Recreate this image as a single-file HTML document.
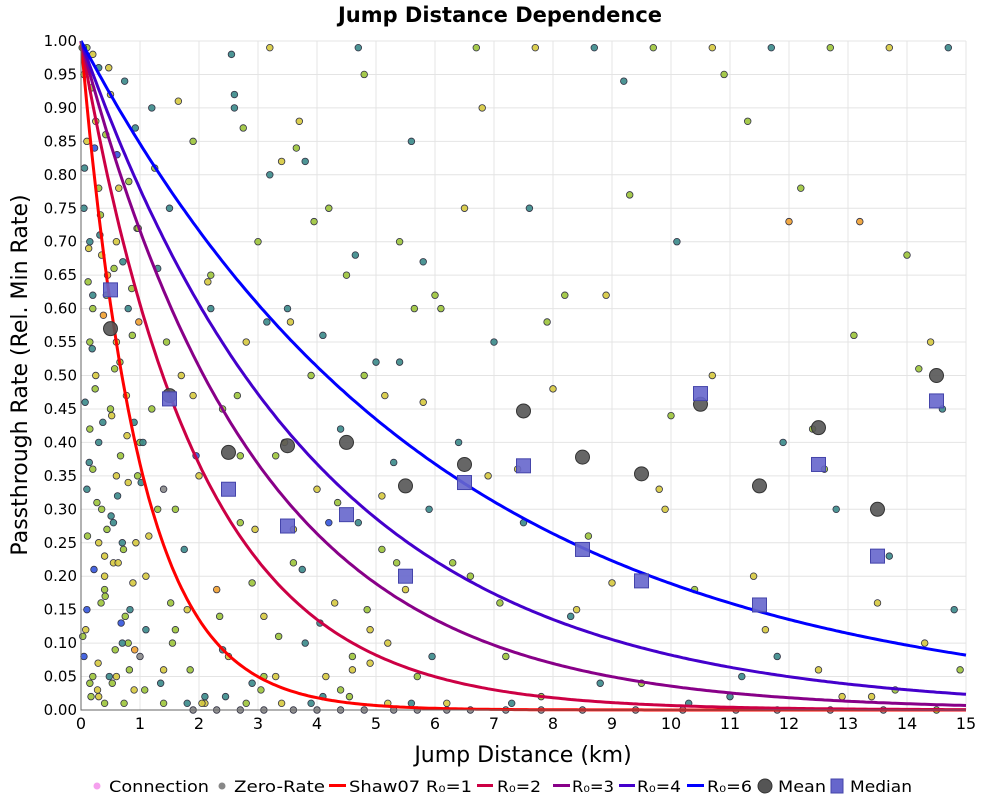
<!DOCTYPE html>
<html><head><meta charset="utf-8"><style>
body{margin:0;background:#fff;font-family:"DejaVu Sans","Liberation Sans",sans-serif}
svg text{font-family:"DejaVu Sans","Liberation Sans",sans-serif}
</style></head><body>
<svg id="chart" width="1000" height="800" xmlns="http://www.w3.org/2000/svg">
<text x="500" y="22" text-anchor="middle" font-size="21" font-weight="bold">Jump Distance Dependence</text>
<text x="523" y="762" text-anchor="middle" font-size="22">Jump Distance (km)</text>
<text transform="translate(27,375) rotate(-90)" text-anchor="middle" font-size="22">Passthrough Rate (Rel. Min Rate)</text>
<g id="grid"></g>
<g id="pts"></g>
<g id="curves"></g>
<g id="stats"></g>
<g id="axes"></g>
<g id="legend" font-size="16">
<circle cx="97" cy="786" r="3.5" fill="#f5a0ee"/>
<text x="109" y="792" textLength="100" lengthAdjust="spacingAndGlyphs">Connection</text>
<circle cx="222" cy="786" r="3.5" fill="#888"/>
<text x="234" y="792" textLength="91" lengthAdjust="spacingAndGlyphs">Zero-Rate</text>
<rect x="329" y="784" width="17" height="3" fill="#ff0000"/>
<text x="349" y="792" textLength="123" lengthAdjust="spacingAndGlyphs">Shaw07 R₀=1</text>
<rect x="477" y="784" width="16" height="3" fill="#cc0044"/>
<text x="497" y="792" textLength="44" lengthAdjust="spacingAndGlyphs">R₀=2</text>
<rect x="553" y="784" width="17" height="3" fill="#880088"/>
<text x="572" y="792" textLength="42" lengthAdjust="spacingAndGlyphs">R₀=3</text>
<rect x="619" y="784" width="16" height="3" fill="#4400cc"/>
<text x="637" y="792" textLength="44" lengthAdjust="spacingAndGlyphs">R₀=4</text>
<rect x="687" y="784" width="17" height="3" fill="#0000ff"/>
<text x="707" y="792" textLength="45" lengthAdjust="spacingAndGlyphs">R₀=6</text>
<circle cx="765" cy="786" r="7" fill="#555" stroke="#333"/>
<text x="778" y="792" textLength="48" lengthAdjust="spacingAndGlyphs">Mean</text>
<rect x="831" y="779" width="12" height="14" fill="#6666cc" stroke="#4444aa"/>
<text x="850" y="792" textLength="62" lengthAdjust="spacingAndGlyphs">Median</text>
</g>
</svg>
<script>
const xTicks=[0,1,2,3,4,5,6,7,8,9,10,11,12,13,14,15];
const yTicks=[0,0.05,0.1,0.15,0.2,0.25,0.3,0.35,0.4,0.45,0.5,0.55,0.6,0.65,0.7,0.75,0.8,0.85,0.9,0.95,1.0];
const r0Values=[1,2,3,4,6];
const binCenters=[0.5,1.5,2.5,3.5,4.5,5.5,6.5,7.5,8.5,9.5,10.5,11.5,12.5,13.5,14.5];
const meanValues=[0.57,0.47,0.385,0.395,0.40,0.335,0.367,0.447,0.378,0.353,0.457,0.335,0.422,0.30,0.50];
const medianValues=[0.628,0.465,0.33,0.275,0.292,0.20,0.34,0.365,0.24,0.193,0.473,0.157,0.367,0.23,0.462];
const scatterX=[0.05,0.1,0.15,0.2,0.25,0.3,0.35,0.4,0.1,0.2,0.3,0.05,0.15,0.25,0.45,0.5,0.6,0.7,0.8,0.9,0.1,0.3,0.5,0.2,0.4,0.6,0.05,0.15,0.35,0.55,0.75,0.95,0.1,0.2,0.3,0.4,0.6,0.8,1.0,1.1,1.2,1.3,1.4,1.5,1.6,1.7,1.8,1.9,2.0,2.1,2.2,2.3,2.4,2.5,2.6,2.7,2.8,2.9,3.0,3.1,3.2,3.3,3.4,3.5,3.6,3.7,3.8,3.9,4.0,4.1,4.2,4.3,4.4,4.5,4.6,4.7,4.8,4.9,5.0,5.1,5.2,5.3,5.4,5.5,5.6,5.7,5.8,5.9,6.0,6.2,6.4,6.6,6.8,7.0,7.2,7.4,7.6,7.8,8.0,8.3,8.6,8.9,9.2,9.5,9.8,10.1,10.4,10.7,11.0,11.3,11.6,11.9,12.2,12.5,12.8,13.1,13.4,13.7,14.0,14.3,14.6,14.9,0.3,0.7,1.2,1.8,2.2,2.7,3.3,3.8,4.2,4.8,5.2,5.8,6.3,6.9,7.3,7.9,8.4,8.8,9.3,9.9,10.3,10.9,11.4,11.8,12.4,12.9,13.2,13.8,14.4,14.8,0.2,0.6,1.1,1.6,2.1,2.6,3.1,3.6,4.1,4.6,5.1,5.6,6.1,0.4,0.9,1.4,1.9,2.4,2.9,3.4,3.9,4.4,4.9,5.4,0.15,0.55,1.05,1.55,2.05,2.55,3.05,3.55,4.05,4.55,0.8,1.3,2.8,3.2,4.7,6.7,7.7,8.7,9.7,10.7,11.7,12.7,13.7,14.7,
0.02,0.04,0.06,0.08,0.12,0.14,0.18,0.22,0.24,0.28,0.32,0.34,0.38,0.42,0.44,0.48,0.52,0.56,0.58,0.62,0.64,0.66,0.68,0.72,0.74,0.78,0.82,0.86,0.88,0.92,0.96,0.98,0.03,0.07,0.11,0.13,0.17,0.19,0.23,0.27,0.29,0.33,0.37,0.41,0.43,0.47,0.51,0.53,0.57,0.61,0.63,0.67,0.71,0.73,0.77,0.81,0.83,0.87,0.91,0.93,0.97,1.02,1.08,1.15,1.25,1.35,1.45,1.52,1.65,1.75,1.85,1.95,2.15,2.35,2.45,2.65,2.75,2.95,3.15,3.35,3.45,3.65,3.75,3.95,4.15,4.35,4.65,4.85,5.15,5.35,5.65,5.95,6.5,7.1,7.5,8.2,9.0,10.0,11.2,12.0,12.6,13.5,14.2,1.0,1.4,1.9,2.3,2.7,3.1,3.6,4.0,4.4,4.8,5.3,5.7,6.2,6.6,7.2,7.8,8.5,9.4,10.2,11.1,11.8,12.7,13.6,14.5];
const scatterY=[0.95,0.85,0.7,0.6,0.5,0.4,0.3,0.2,0.15,0.05,0.02,0.75,0.55,0.88,0.65,0.45,0.35,0.25,0.1,0.03,0.33,0.78,0.92,0.62,0.18,0.55,0.08,0.42,0.68,0.28,0.14,0.72,0.99,0.98,0.96,0.01,0.05,0.6,0.4,0.2,0.9,0.3,0.06,0.75,0.12,0.5,0.01,0.85,0.35,0.02,0.65,0.18,0.45,0.08,0.92,0.28,0.55,0.04,0.7,0.14,0.8,0.38,0.01,0.6,0.22,0.88,0.1,0.5,0.33,0.02,0.75,0.16,0.42,0.65,0.06,0.28,0.95,0.12,0.52,0.24,0.01,0.37,0.7,0.18,0.85,0.05,0.46,0.3,0.62,0.01,0.4,0.2,0.9,0.55,0.08,0.36,0.75,0.02,0.48,0.14,0.26,0.62,0.94,0.04,0.33,0.7,0.18,0.5,0.02,0.88,0.12,0.4,0.78,0.06,0.3,0.56,0.02,0.23,0.68,0.1,0.45,0.06,0.25,0.1,0.45,0.15,0.6,0.38,0.05,0.82,0.28,0.5,0.1,0.67,0.22,0.35,0.01,0.58,0.15,0.04,0.77,0.3,0.01,0.95,0.2,0.08,0.42,0.02,0.73,0.03,0.55,0.15,0.36,0.7,0.12,0.3,0.01,0.9,0.05,0.27,0.56,0.08,0.32,0.01,0.6,0.23,0.43,0.01,0.47,0.09,0.19,0.82,0.01,0.03,0.07,0.52,0.04,0.22,0.4,0.1,0.01,0.98,0.03,0.58,0.13,0.02,0.34,0.66,0.01,0.99,0.99,0.99,0.99,0.99,0.99,0.99,0.99,0.99,0.99,0.99,0.99,0.99,
0.81,0.12,0.64,0.37,0.93,0.21,0.48,0.03,0.71,0.16,0.59,0.86,0.27,0.05,0.44,0.66,0.09,0.32,0.78,0.52,0.13,0.24,0.94,0.41,0.06,0.63,0.19,0.87,0.35,0.58,0.11,0.46,0.26,0.69,0.02,0.54,0.84,0.31,0.07,0.74,0.43,0.17,0.62,0.96,0.29,0.04,0.51,0.83,0.22,0.38,0.67,0.01,0.47,0.79,0.15,0.56,0.09,0.25,0.72,0.34,0.03,0.26,0.81,0.04,0.55,0.16,0.91,0.24,0.06,0.38,0.64,0.14,0.02,0.47,0.87,0.27,0.58,0.11,0.4,0.84,0.21,0.73,0.05,0.31,0.68,0.15,0.47,0.22,0.6,0.08,0.75,0.16,0.28,0.62,0.19,0.44,0.05,0.73,0.36,0.16,0.51,0.08,0.33,0,0,0,0,0,0,0,0,0,0,0,0,0,0,0,0,0,0,0,0,0,0,0,0];
const scatterColor=[0,1,2,0,1,2,0,1,3,0,1,2,0,1,4,0,1,2,0,1,2,0,1,2,0,1,3,0,1,2,0,1,0,1,2,0,1,2,0,1,2,0,1,2,0,1,2,0,1,2,0,4,0,1,2,0,1,2,0,1,2,0,1,2,0,1,2,0,1,2,0,1,2,0,1,2,0,1,2,0,1,2,0,1,2,0,1,2,0,1,2,0,1,2,0,1,2,0,1,2,0,1,2,0,1,2,0,1,2,0,1,2,0,1,2,0,1,2,0,1,2,0,1,2,0,1,2,0,1,2,3,0,1,2,0,1,2,0,1,2,0,1,2,0,1,2,0,1,4,0,1,2,0,1,2,0,1,2,0,1,2,0,1,2,0,1,2,0,1,2,0,1,2,0,1,2,0,1,2,0,1,2,0,1,2,0,1,2,0,1,2,0,1,2,0,1,2,0,1,2,
0,0,2,1,0,2,0,3,0,1,2,0,4,0,0,2,1,0,0,2,1,0,3,0,2,1,0,0,1,2,0,4,0,2,0,1,0,2,3,0,1,0,2,0,0,1,2,0,0,3,1,0,2,0,1,0,2,0,4,1,0,2,0,1,0,2,0,0,1,2,0,3,1,0,2,0,0,1,2,0,1,0,2,0,1,0,2,0,1,0,0,2,1,0,2,0,1,0,2,4,0,1,0,5,5,5,5,5,5,5,5,5,5,5,5,5,5,5,5,5,5,5,5,5,5,5];
const PX0=81,PX1=966,PY0=710,PY1=41;
const sx=v=>PX0+(PX1-PX0)*v/15, sy=v=>PY0-(PY0-PY1)*v;
const NS='http://www.w3.org/2000/svg';
function mk(tag,attrs,parent){const e=document.createElementNS(NS,tag);for(const k in attrs)e.setAttribute(k,attrs[k]);parent.appendChild(e);return e;}
const grid=document.getElementById('grid'),axes=document.getElementById('axes');
xTicks.forEach(t=>{
 const l=mk('line',{x1:sx(t),x2:sx(t),y1:PY1,y2:PY0,stroke:'#e4e4e4'},grid);
 
 
 const tx=mk('text',{x:sx(t),y:PY0+19,'text-anchor':'middle','font-size':16},axes);tx.textContent=t;
 
 
});
yTicks.forEach(t=>{
 const l=mk('line',{x1:PX0,x2:PX1,y1:sy(t),y2:sy(t),stroke:'#e4e4e4'},grid);
 
 
 const tx=mk('text',{x:PX0-4,y:sy(t)+5,'text-anchor':'end','font-size':15},axes);tx.textContent=t.toFixed(2);
 
 
});
const ax=mk('path',{d:`M${PX0},${PY1}V${PY0}H${PX1}`,stroke:'#666',fill:'none'},axes);


const cols=['#9cc43a','#d6c93e','#3a8a8a','#3355dd','#f0a030','#888888'];
const pts=document.getElementById('pts');
scatterX.forEach((x,i)=>{
 const c=mk('circle',{cx:sx(x),cy:sy(scatterY[i]),r:3.3,fill:cols[scatterColor[i]||0],stroke:'#334','stroke-width':0.8,'fill-opacity':0.9},pts);
 
 
});
const curveCols=['#ff0000','#cc0044','#880088','#4400cc','#0000ff'];
const curves=document.getElementById('curves');
r0Values.forEach((r,i)=>{
 let d='';for(let k=0;k<=300;k++){const x=15*k/300;d+=(k?'L':'M')+sx(x).toFixed(1)+','+sy(Math.exp(-x/r)).toFixed(1);}
 const p=mk('path',{d:d,stroke:curveCols[i],'stroke-width':3,fill:'none'},curves);
 
 
});
const stats=document.getElementById('stats');
binCenters.forEach((x,i)=>{
 const c=mk('circle',{cx:sx(x),cy:sy(meanValues[i]),r:7,fill:'#555','fill-opacity':0.9,stroke:'#333'},stats);
 
 
 const s=mk('rect',{x:sx(x)-7,y:sy(medianValues[i])-7,width:14,height:14,fill:'#6666cc','fill-opacity':0.9,stroke:'#4444aa'},stats);
 
 
});
</script>
</body></html>
